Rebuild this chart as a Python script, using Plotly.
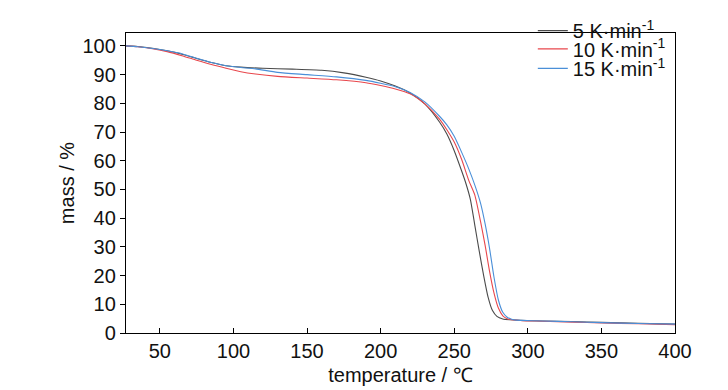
import plotly.graph_objects as go

# 5 K/min
x_5 = [27, 35, 45, 55, 65, 75, 85, 95, 105, 120, 140, 160, 175, 190, 200, 210, 220, 230, 240, 245,
       250, 255, 258, 261, 264, 267, 270, 273, 276, 279, 283, 288, 295, 310, 330, 350, 375, 400]
m_5 = [100, 99.8, 99.2, 98.3, 97.1, 95.6, 94.2, 93.1, 92.6, 92.2, 91.9, 91.5, 90.6, 89.1, 87.8, 86.0, 83.6, 79.8, 73.5, 69.3,
       63.5, 56.5, 52.0, 46.5, 37.5, 28.5, 20.0, 12.5, 7.8, 5.8, 4.9, 4.6, 4.4, 4.2, 4.0, 3.7, 3.4, 3.1]

# 10 K/min
x_10 = [27, 35, 45, 55, 65, 75, 85, 95, 105, 115, 130, 150, 170, 190, 200, 210, 220, 230, 240, 245,
        250, 255, 260, 264, 268, 271, 274, 277, 280, 283, 286, 289, 292, 296, 310, 330, 350, 375, 400]
m_10 = [100, 99.7, 99.0, 98.0, 96.6, 95.0, 93.5, 92.2, 91.0, 90.2, 89.4, 88.8, 88.2, 87.2, 86.2, 85.0, 83.3, 79.8, 74.5, 70.8,
        66.5, 60.5, 53.0, 48.0, 38.5, 30.5, 21.5, 14.0, 8.7, 6.0, 5.0, 4.6, 4.5, 4.3, 4.1, 3.8, 3.5, 3.2, 2.9]

# 15 K/min
x_15 = [27, 35, 45, 55, 65, 75, 85, 95, 105, 115, 130, 150, 170, 190, 200, 210, 220, 230, 240, 245,
        250, 255, 260, 264, 268, 271, 274, 277, 280, 283, 286, 289, 292, 296, 310, 330, 350, 375, 400]
m_15 = [100, 99.7, 99.1, 98.3, 97.3, 95.7, 94.2, 93.1, 92.5, 92.0, 90.8, 90.0, 89.2, 88.0, 87.0, 85.8, 83.8, 80.5, 75.5, 72.5,
        68.5, 63.0, 57.0, 51.5, 45.0, 38.0, 29.5, 19.5, 11.5, 7.2, 5.5, 4.8, 4.5, 4.4, 4.2, 3.9, 3.6, 3.3, 3.1]

series_names = ["5 K·min<sup>-1</sup>", "10 K·min<sup>-1</sup>", "15 K·min<sup>-1</sup>"]
colors = ["#4a4a4a", "#e8474c", "#4a8fd8"]

x_ticks = [50, 100, 150, 200, 250, 300, 350, 400]
y_ticks = [0, 10, 20, 30, 40, 50, 60, 70, 80, 90, 100]

FONT = "Liberation Sans, Arial, sans-serif"

fig = go.Figure()
data = [(x_5, m_5), (x_10, m_10), (x_15, m_15)]
legends = ["legend", "legend2", "legend3"]
for (xs, ys), name, c, lg in zip(data, series_names, colors, legends):
    fig.add_trace(go.Scatter(x=xs, y=ys, mode="lines", name=name, showlegend=True,
                             line=dict(color=c, width=1.1, shape="spline", smoothing=0.6),
                             legend=lg))

leg_common = dict(font=dict(family=FONT, size=20, color="#111111"), bgcolor="rgba(0,0,0,0)",
                  xanchor="left", yanchor="top", x=0.741, borderwidth=0, visible=True)
# page body has an 8px default margin, so the figure is 8px smaller than the window
fig.update_layout(
    width=720, height=382,
    margin=dict(l=118, r=53, t=3, b=57),
    paper_bgcolor="white", plot_bgcolor="white",
    font=dict(family=FONT, size=20, color="#111111"),
    legend=dict(y=1.073, **leg_common),
    legend2=dict(y=1.012, **leg_common),
    legend3=dict(y=0.947, **leg_common),
    xaxis=dict(range=[27, 400], tickvals=x_ticks, ticks="inside", ticklen=5, tickcolor="black",
               showline=True, linecolor="black", linewidth=1.3, mirror=True, showgrid=False,
               zeroline=False, tickfont=dict(size=20), automargin=False,
               title=dict(text="temperature / ℃", font=dict(size=20), standoff=6)),
    yaxis=dict(range=[0, 104.5], tickvals=y_ticks, ticks="outside", ticklen=5, tickcolor="black",
               showline=True, linecolor="black", linewidth=1.3, mirror=True, showgrid=False,
               zeroline=False, tickfont=dict(size=20), automargin=False,
               title=dict(text="mass / %", font=dict(size=20), standoff=2)),
)

fig.write_html("out.html")
